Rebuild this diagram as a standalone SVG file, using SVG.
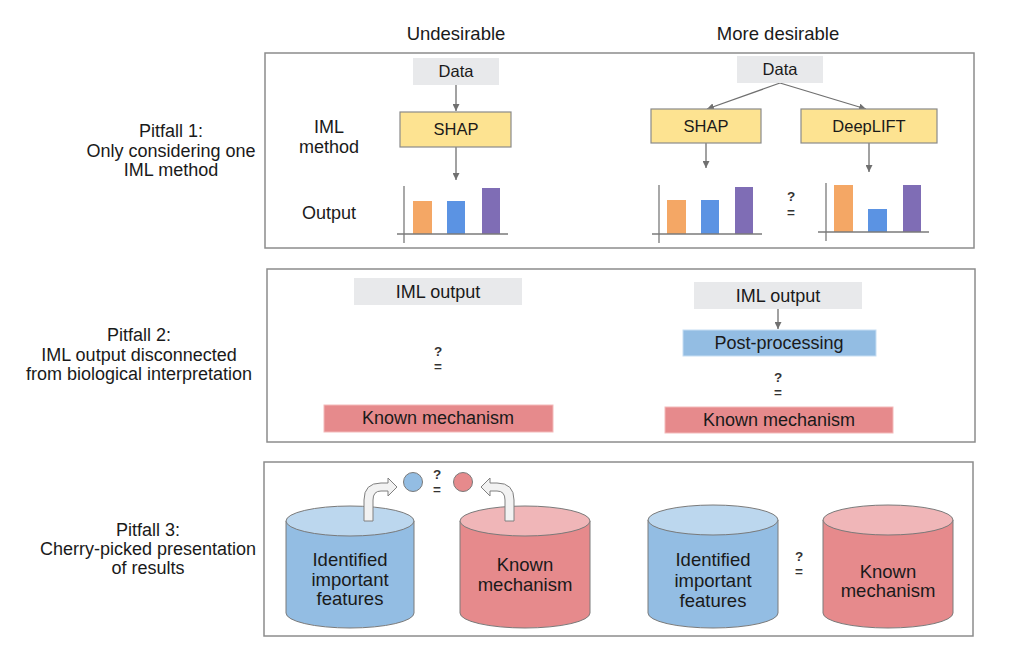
<svg xmlns="http://www.w3.org/2000/svg" width="1024" height="649" viewBox="0 0 1024 649">
<defs>
<style>
text{font-family:"Liberation Sans",Arial,sans-serif;fill:#1a1a1a}
.hdr{font-size:18.5px;text-anchor:middle}
.lbl{font-size:18px;text-anchor:middle}
.bx{font-size:16.5px;text-anchor:middle}
.bx2{font-size:18px;text-anchor:middle}
.cy{font-size:18.5px;text-anchor:middle}
.q{font-size:13.5px;text-anchor:middle;font-weight:bold;fill:#333}
.panel{fill:#fff;stroke:#8c8c8c;stroke-width:1.5}
.data{fill:#e8e9eb}
.meth{fill:#fde391;stroke:#8a8a8a;stroke-width:1.2}
.known{fill:#e68a8c;stroke:#f3baba;stroke-width:1}
.post{fill:#93bde3;stroke:#c6def3;stroke-width:1}
.conn{stroke:#707070;stroke-width:1.3;fill:none;marker-end:url(#ah)}
.axis{stroke:#7a7a7a;stroke-width:1.3}
.bo{fill:#f4a765}.bb{fill:#5b93e3}.bp{fill:#7f6db5}
.cylb{fill:#93bde3;stroke:#7a7a7a;stroke-width:1}
.cylbt{fill:#bcd7ee;stroke:#7a7a7a;stroke-width:1}
.cylr{fill:#e68a8c;stroke:#7a7a7a;stroke-width:1}
.cylrt{fill:#f0b6b8;stroke:#7a7a7a;stroke-width:1}
.carr{fill:#f2f2f2;stroke:#808080;stroke-width:1}
</style>
<marker id="ah" viewBox="0 0 10 10" refX="10" refY="5" markerWidth="7" markerHeight="7" markerUnits="userSpaceOnUse" orient="auto">
<path d="M0,0 L10,5 L0,10 Z" fill="#707070"/>
</marker>
</defs>
<rect width="1024" height="649" fill="#fff"/>

<g id="headers">
<text class="hdr" x="456" y="40">Undesirable</text>
<text class="hdr" x="778" y="40">More desirable</text>
</g>

<g id="pitfall-labels">
<text class="lbl" x="171" y="137">Pitfall 1:</text>
<text class="lbl" x="171" y="157">Only considering one</text>
<text class="lbl" x="171" y="176">IML method</text>
<text class="lbl" x="139" y="341">Pitfall 2:</text>
<text class="lbl" x="139" y="361">IML output disconnected</text>
<text class="lbl" x="139" y="380">from biological interpretation</text>
<text class="lbl" x="148" y="536">Pitfall 3:</text>
<text class="lbl" x="148" y="555">Cherry-picked presentation</text>
<text class="lbl" x="148" y="574">of results</text>
</g>

<g id="panels">
<rect class="panel" x="265" y="53" width="709" height="195"/>
<rect class="panel" x="267" y="269" width="708" height="173"/>
<rect class="panel" x="264" y="462" width="709" height="174"/>
</g>

<g id="row-labels">
<text class="lbl" x="329" y="133">IML</text>
<text class="lbl" x="329" y="153">method</text>
<text class="lbl" x="329" y="219">Output</text>
</g>

<g id="connectors">
<line class="conn" x1="456" y1="85" x2="456" y2="111"/>
<line class="conn" x1="456" y1="147" x2="456" y2="180"/>
<line class="conn" x1="780" y1="83" x2="707" y2="109"/>
<line class="conn" x1="780" y1="83" x2="866" y2="109"/>
<line class="conn" x1="706" y1="143" x2="706" y2="168"/>
<line class="conn" x1="869" y1="143" x2="869" y2="172"/>
<line class="conn" x1="778" y1="309" x2="778" y2="329"/>
</g>

<g id="n-data1"><rect class="data" x="413" y="58" width="86" height="27"/><text class="bx" x="456" y="77">Data</text></g>
<g id="n-shap1"><rect class="meth" x="400" y="112" width="111" height="35"/><text class="bx" x="456" y="135">SHAP</text></g>
<g id="n-chart1">
<rect class="bo" x="413" y="201" width="19" height="33"/>
<rect class="bb" x="447" y="201" width="18" height="33"/>
<rect class="bp" x="482" y="188" width="18" height="46"/>
<line class="axis" x1="404" y1="186" x2="404" y2="243"/>
<line class="axis" x1="397" y1="234" x2="508" y2="234"/>
</g>

<g id="n-data2"><rect class="data" x="737" y="56" width="86" height="27"/><text class="bx" x="780" y="75">Data</text></g>
<g id="n-shap2"><rect class="meth" x="651" y="109" width="110" height="34"/><text class="bx" x="706" y="132">SHAP</text></g>
<g id="n-deeplift"><rect class="meth" x="801" y="109" width="136" height="34"/><text class="bx" x="869" y="132">DeepLIFT</text></g>
<g id="n-chart2">
<rect class="bo" x="667" y="200" width="19" height="34"/>
<rect class="bb" x="701" y="200" width="18" height="34"/>
<rect class="bp" x="735" y="187" width="18" height="47"/>
<line class="axis" x1="659" y1="185" x2="659" y2="243"/>
<line class="axis" x1="652" y1="234" x2="762" y2="234"/>
</g>
<g id="n-q1"><text class="q" x="791" y="201">?</text><text class="q" x="791" y="216.5">=</text></g>
<g id="n-chart3">
<rect class="bo" x="834" y="185" width="19" height="47"/>
<rect class="bb" x="868" y="209" width="19" height="23"/>
<rect class="bp" x="903" y="185" width="18" height="47"/>
<line class="axis" x1="826" y1="183" x2="826" y2="241"/>
<line class="axis" x1="818" y1="232" x2="929" y2="232"/>
</g>

<g id="n-imlout1"><rect class="data" x="354" y="278" width="168" height="27"/><text class="bx2" x="438" y="298">IML output</text></g>
<g id="n-q2"><text class="q" x="438" y="356">?</text><text class="q" x="438" y="371">=</text></g>
<g id="n-known1"><rect class="known" x="324" y="405" width="229" height="27"/><text class="bx2" x="438" y="424">Known mechanism</text></g>

<g id="n-imlout2"><rect class="data" x="694" y="282" width="168" height="27"/><text class="bx2" x="778" y="302">IML output</text></g>
<g id="n-post"><rect class="post" x="683" y="330" width="193" height="26"/><text class="bx2" x="779" y="349">Post-processing</text></g>
<g id="n-q3"><text class="q" x="778" y="382">?</text><text class="q" x="778" y="397">=</text></g>
<g id="n-known2"><rect class="known" x="665" y="407" width="228" height="26"/><text class="bx2" x="779" y="426">Known mechanism</text></g>

<g id="n-cyl1">
<path class="cylb" d="M286,521 L286,613 A64,15 0 0 0 414,613 L414,521 Z"/>
<ellipse class="cylbt" cx="350" cy="521" rx="64" ry="15"/>
<text class="cy" x="350" y="566">Identified</text>
<text class="cy" x="350" y="586">important</text>
<text class="cy" x="350" y="605">features</text>
</g>
<g id="n-cyl2">
<path class="cylr" d="M460,521 L460,613 A65,15 0 0 0 590,613 L590,521 Z"/>
<ellipse class="cylrt" cx="525" cy="521" rx="65" ry="15"/>
<text class="cy" x="525" y="571">Known</text>
<text class="cy" x="525" y="591">mechanism</text>
</g>
<g id="n-curvearrows">
<path class="carr" d="M364,521 L364,500 Q364,483 381,483 L388,483 L388,478 L397,487 L388,496 L388,491 L381,491 Q373,491 373,500 L373,521 Z"/>
<path class="carr" transform="translate(878,0) scale(-1,1)" d="M364,521 L364,500 Q364,483 381,483 L388,483 L388,478 L397,487 L388,496 L388,491 L381,491 Q373,491 373,500 L373,521 Z"/>
</g>
<g id="n-circles">
<circle cx="413" cy="482" r="9.5" fill="#93bde3" stroke="#7a7a7a" stroke-width="1"/>
<circle cx="463" cy="482" r="9.5" fill="#e68a8c" stroke="#7a7a7a" stroke-width="1"/>
<text class="q" x="437" y="479">?</text><text class="q" x="437" y="494">=</text>
</g>

<g id="n-cyl3">
<path class="cylb" d="M648,520 L648,613 A65,15 0 0 0 778,613 L778,520 Z"/>
<ellipse class="cylbt" cx="713" cy="520" rx="65" ry="15"/>
<text class="cy" x="713" y="566">Identified</text>
<text class="cy" x="713" y="587">important</text>
<text class="cy" x="713" y="607">features</text>
</g>
<g id="n-q4"><text class="q" x="799" y="561">?</text><text class="q" x="799" y="576">=</text></g>
<g id="n-cyl4">
<path class="cylr" d="M823,520 L823,613 A65,15 0 0 0 953,613 L953,520 Z"/>
<ellipse class="cylrt" cx="888" cy="520" rx="65" ry="15"/>
<text class="cy" x="888" y="578">Known</text>
<text class="cy" x="888" y="597">mechanism</text>
</g>
</svg>
